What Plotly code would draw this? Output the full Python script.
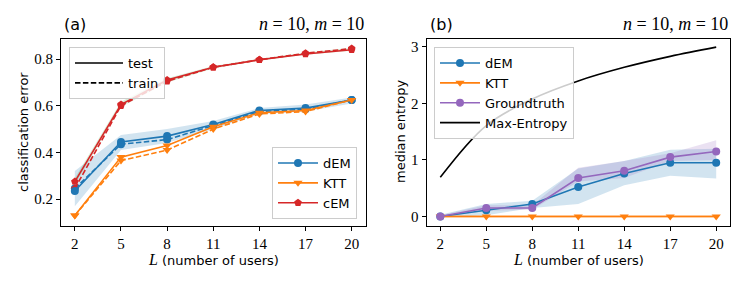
import plotly.graph_objects as go

# ---------------- data ----------------
L_users = [2, 5, 8, 11, 14, 17, 20]
x_ticks = [2, 5, 8, 11, 14, 17, 20]

# panel (a): classification error
dem_test = [0.235, 0.445, 0.470, 0.520, 0.580, 0.590, 0.625]
dem_train = [0.245, 0.435, 0.455, 0.515, 0.575, 0.585, 0.625]
dem_lo = [0.170, 0.410, 0.440, 0.500, 0.565, 0.575, 0.610]
dem_hi = [0.320, 0.475, 0.500, 0.535, 0.590, 0.605, 0.635]
ktt_test = [0.130, 0.380, 0.430, 0.510, 0.570, 0.580, 0.625]
ktt_train = [0.130, 0.365, 0.410, 0.500, 0.565, 0.575, 0.625]
cem_test = [0.275, 0.605, 0.710, 0.765, 0.797, 0.822, 0.840]
cem_train = [0.245, 0.600, 0.705, 0.765, 0.797, 0.825, 0.845]
cem_lo = [0.262, 0.595, 0.700, 0.760, 0.793, 0.818, 0.836]
cem_hi = [0.290, 0.617, 0.718, 0.770, 0.801, 0.828, 0.848]

# panel (b): median entropy
dem_ent = [0.00, 0.11, 0.22, 0.52, 0.76, 0.95, 0.95]
dem_ent_lo = [-0.02, 0.02, 0.15, 0.22, 0.55, 0.72, 0.67]
dem_ent_hi = [0.03, 0.22, 0.28, 0.85, 0.98, 1.18, 1.20]
gt_ent = [0.00, 0.15, 0.15, 0.68, 0.81, 1.05, 1.15]
gt_ent_lo = [-0.01, 0.10, 0.12, 0.62, 0.68, 0.98, 1.00]
gt_ent_hi = [0.02, 0.20, 0.20, 0.86, 0.98, 1.12, 1.35]
ktt_ent = [0.0, 0.0, 0.0, 0.0, 0.0, 0.0, 0.0]
ktt_ent_lo = [-0.02, -0.02, -0.02, -0.02, -0.02, -0.02, -0.02]
ktt_ent_hi = [0.02, 0.02, 0.02, 0.02, 0.02, 0.02, 0.02]
max_entropy = [0.693, 1.609, 2.079, 2.398, 2.639, 2.833, 2.996]

BLUE = "#1f77b4"
ORANGE = "#ff7f0e"
RED = "#d62728"
PURPLE = "#9467bd"
GREEN = "#2ca02c"

SANS = "DejaVu Sans"
SERIF = "Liberation Serif"
DASH = "5.5px,2.4px"

fig = go.Figure()


def band(x, lo, hi, color, alpha, xa, ya):
    r, g, b = int(color[1:3], 16), int(color[3:5], 16), int(color[5:7], 16)
    fig.add_trace(go.Scatter(x=x, y=lo, mode="lines", line=dict(width=0),
                             showlegend=False, hoverinfo="skip", xaxis=xa, yaxis=ya))
    fig.add_trace(go.Scatter(x=x, y=hi, mode="lines", line=dict(width=0),
                             fill="tonexty", fillcolor=f"rgba({r},{g},{b},{alpha})",
                             showlegend=False, hoverinfo="skip", xaxis=xa, yaxis=ya))


# ---- panel (a) ----
band(L_users, dem_lo, dem_hi, BLUE, 0.2, "x", "y")
band(L_users, cem_lo, cem_hi, GREEN, 0.18, "x", "y")


def series(x, y, color, symbol, dash, name, legend, showlegend, xa, ya, size=8):
    fig.add_trace(go.Scatter(
        x=x, y=y, mode="lines+markers", name=name,
        line=dict(color=color, width=1.6, dash=dash),
        marker=dict(color=color, symbol=symbol, size=size, line=dict(width=0)),
        showlegend=showlegend, legend=legend, xaxis=xa, yaxis=ya))


series(L_users, dem_train, BLUE, "circle", DASH, "dEM", "legend2", False, "x", "y")
series(L_users, ktt_train, ORANGE, "triangle-down", DASH, "KTT", "legend2", False, "x", "y")
series(L_users, cem_train, RED, "pentagon", DASH, "cEM", "legend2", False, "x", "y")
series(L_users, dem_test, BLUE, "circle", "solid", "dEM", "legend2", True, "x", "y")
series(L_users, ktt_test, ORANGE, "triangle-down", "solid", "KTT", "legend2", True, "x", "y")
series(L_users, cem_test, RED, "pentagon", "solid", "cEM", "legend2", True, "x", "y")

# line-style legend (legend-only entries)
fig.add_trace(go.Scatter(x=[None], y=[None], mode="lines", name="test",
                         line=dict(color="black", width=1.6), legend="legend",
                         xaxis="x", yaxis="y"))
fig.add_trace(go.Scatter(x=[None], y=[None], mode="lines", name="train",
                         line=dict(color="black", width=1.6, dash=DASH), legend="legend",
                         xaxis="x", yaxis="y"))

# ---- panel (b) ----
band(L_users, dem_ent_lo, dem_ent_hi, BLUE, 0.2, "x2", "y2")
band(L_users, gt_ent_lo, gt_ent_hi, PURPLE, 0.2, "x2", "y2")
band(L_users, ktt_ent_lo, ktt_ent_hi, ORANGE, 0.35, "x2", "y2")
series(L_users, dem_ent, BLUE, "circle", "solid", "dEM", "legend3", True, "x2", "y2")
series(L_users, ktt_ent, ORANGE, "triangle-down", "solid", "KTT", "legend3", True, "x2", "y2")
series(L_users, gt_ent, PURPLE, "circle", "solid", "Groundtruth", "legend3", True, "x2", "y2")
fig.add_trace(go.Scatter(x=L_users, y=max_entropy, mode="lines", name="Max-Entropy",
                         line=dict(color="black", width=1.6, shape="spline"),
                         legend="legend3", xaxis="x2", yaxis="y2"))

W, H = 747, 284
ax_common = dict(showline=True, linecolor="black", linewidth=1, mirror=True,
                 ticks="outside", ticklen=4, tickcolor="black", showgrid=False,
                 zeroline=False, tickfont=dict(family=SERIF, size=15, color="black"))

legend_common = dict(bgcolor="rgba(255,255,255,0.8)", bordercolor="#cccccc", borderwidth=1,
                     font=dict(family=SANS, size=13, color="black"),
                     xref="paper", yref="paper", tracegroupgap=0,
                     traceorder="normal")

fig.update_layout(
    width=W, height=H,
    margin=dict(l=0, r=0, t=0, b=0),
    paper_bgcolor="white", plot_bgcolor="white",
    xaxis=dict(domain=[61 / W, 365.5 / W], range=[1.1, 20.9],
               tickvals=x_ticks, ticktext=[str(v) for v in x_ticks], **ax_common),
    yaxis=dict(domain=[1 - 225.5 / H, 1 - 39 / H], range=[0.087, 0.886],
               tickvals=[0.2, 0.4, 0.6, 0.8], ticktext=["0.2", "0.4", "0.6", "0.8"], **ax_common),
    xaxis2=dict(domain=[426.5 / W, 730 / W], range=[1.1, 20.9], anchor="y2",
                tickvals=x_ticks, ticktext=[str(v) for v in x_ticks], **ax_common),
    yaxis2=dict(domain=[1 - 225.5 / H, 1 - 39 / H], range=[-0.16, 3.14], anchor="x2",
                tickvals=[0, 1, 2, 3], ticktext=["0", "1", "2", "3"], **ax_common),
    legend=dict(x=69 / W, y=1 - 47 / H, xanchor="left", yanchor="top", itemwidth=48,
                **legend_common),
    legend2=dict(x=357 / W, y=1 - 219 / H, xanchor="right", yanchor="bottom", itemwidth=40,
                 **legend_common),
    legend3=dict(x=434 / W, y=1 - 47 / H, xanchor="left", yanchor="top", itemwidth=40,
                 **legend_common),
    showlegend=True,
)

ann = []
# panel titles
ann.append(dict(text="(a)", x=62 / W, y=1 - 24 / H, xanchor="left", yanchor="middle",
                font=dict(family=SANS, size=16, color="black")))
ann.append(dict(text="<i>n</i> = 10, <i>m</i> = 10", x=365.5 / W, y=1 - 24 / H,
                xanchor="right", yanchor="middle",
                font=dict(family=SERIF, size=18, color="black")))
ann.append(dict(text="(b)", x=428 / W, y=1 - 24 / H, xanchor="left", yanchor="middle",
                font=dict(family=SANS, size=16, color="black")))
ann.append(dict(text="<i>n</i> = 10, <i>m</i> = 10", x=730 / W, y=1 - 24 / H,
                xanchor="right", yanchor="middle",
                font=dict(family=SERIF, size=18, color="black")))
# x-axis titles
xt = ("<span style='font-family:Liberation Serif;font-size:16px'><i>L</i></span>"
      " (number of users)")
ann.append(dict(text=xt, x=213 / W, y=1 - 259 / H, xanchor="center", yanchor="middle",
                font=dict(family=SANS, size=13, color="black")))
ann.append(dict(text=xt, x=578 / W, y=1 - 259 / H, xanchor="center", yanchor="middle",
                font=dict(family=SANS, size=13, color="black")))
# y-axis titles
ann.append(dict(text="classification error", x=23 / W, y=1 - 132 / H, textangle=-90,
                xanchor="center", yanchor="middle",
                font=dict(family=SANS, size=13, color="black")))
ann.append(dict(text="median entropy", x=400 / W, y=1 - 132 / H, textangle=-90,
                xanchor="center", yanchor="middle",
                font=dict(family=SANS, size=13, color="black")))

for a in ann:
    a.update(xref="paper", yref="paper", showarrow=False)
fig.update_layout(annotations=ann)

fig.write_html("out.html", config={"displayModeBar": False},
               post_script="document.body.style.margin='0';document.body.style.overflow='hidden';")
